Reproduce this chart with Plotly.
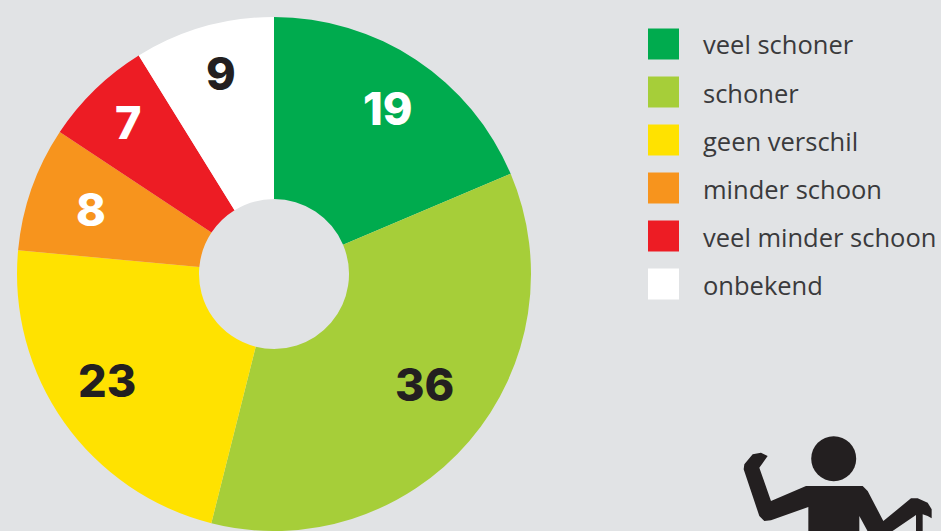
import plotly.graph_objects as go

W, H = 941, 531
categories = ["veel schoner", "schoner", "geen verschil", "minder schoon", "veel minder schoon", "onbekend"]
values = [19, 36, 23, 8, 7, 9]
colors = ["#00AB4E", "#A6CE39", "#FFE200", "#F7941D", "#ED1C24", "#FFFFFF"]
label_colors = ["#FFFFFF", "#231F20", "#231F20", "#FFFFFF", "#FFFFFF", "#231F20"]
label_px = [(388, 108), (424, 384), (107, 380), (91, 209), (128, 123), (221, 73)]
BG = "#E1E3E5"
DARK = "#231F20"

def px(x): return x / W
def py(y): return 1 - y / H

fig = go.Figure(go.Pie(
    labels=categories, values=values, sort=False, direction="clockwise", rotation=0,
    hole=75 / 257, marker=dict(colors=colors, line=dict(width=0)), textinfo="none",
    hoverinfo="label+value", showlegend=False,
    domain=dict(x=[px(17), px(531)], y=[py(531), py(17)]),
))

annotations, shapes = [], []
for v, c, (x, y) in zip(values, label_colors, label_px):
    annotations.append(dict(x=px(x), y=py(y), xref="paper", yref="paper", text=f"{v}", showarrow=False,
                            xanchor="center", yanchor="middle", font=dict(family="Inter", size=45, color=c, weight=800)))

for i, (cat, col) in enumerate(zip(categories, colors)):
    cy = 44 + 48 * i
    shapes.append(dict(type="rect", xref="paper", yref="paper", x0=px(648), x1=px(679), y0=py(cy - 15.5), y1=py(cy + 15.5),
                       fillcolor=col, line=dict(width=0)))
    annotations.append(dict(x=px(700.5), y=py(cy + 0.5), xref="paper", yref="paper", text=cat, showarrow=False,
                            xanchor="left", yanchor="middle", font=dict(family="Open Sans", size=25.5, color="#3A3A3C")))

def zp(x, y): return f"{px(721 + x / 3):.5f},{py(421 + y / 3):.5f}"
body = [(140, 105), (120, 95), (95, 100), (70, 130), (68, 145), (115, 285), (130, 300), (150, 298), (262, 258), (262, 340),
        (415, 340), (415, 285), (445, 340), (500, 340), (585, 282), (585, 340), (605, 340), (605, 280), (620, 285), (632, 292),
        (632, 265), (620, 245), (590, 232), (570, 232), (487, 300), (440, 210), (425, 195), (255, 195), (150, 240), (115, 140)]
path = "M" + "L".join(zp(x, y) for x, y in body) + "Z"
shapes.append(dict(type="path", xref="paper", yref="paper", path=path, fillcolor=DARK, line=dict(width=0)))
shapes.append(dict(type="circle", xref="paper", yref="paper", x0=px(811.2), x1=px(856.2), y0=py(481.2), y1=py(436.2),
                   fillcolor=DARK, line=dict(width=0)))

fig.update_layout(width=W, height=H, margin=dict(l=0, r=0, t=0, b=0), paper_bgcolor=BG, plot_bgcolor=BG,
                  annotations=annotations, shapes=shapes, showlegend=False)
fig.write_html("out.html", config=dict(displayModeBar=False),
               post_script="document.body.style.margin='0';document.body.style.background='#E1E3E5';document.body.style.overflow='hidden';")
